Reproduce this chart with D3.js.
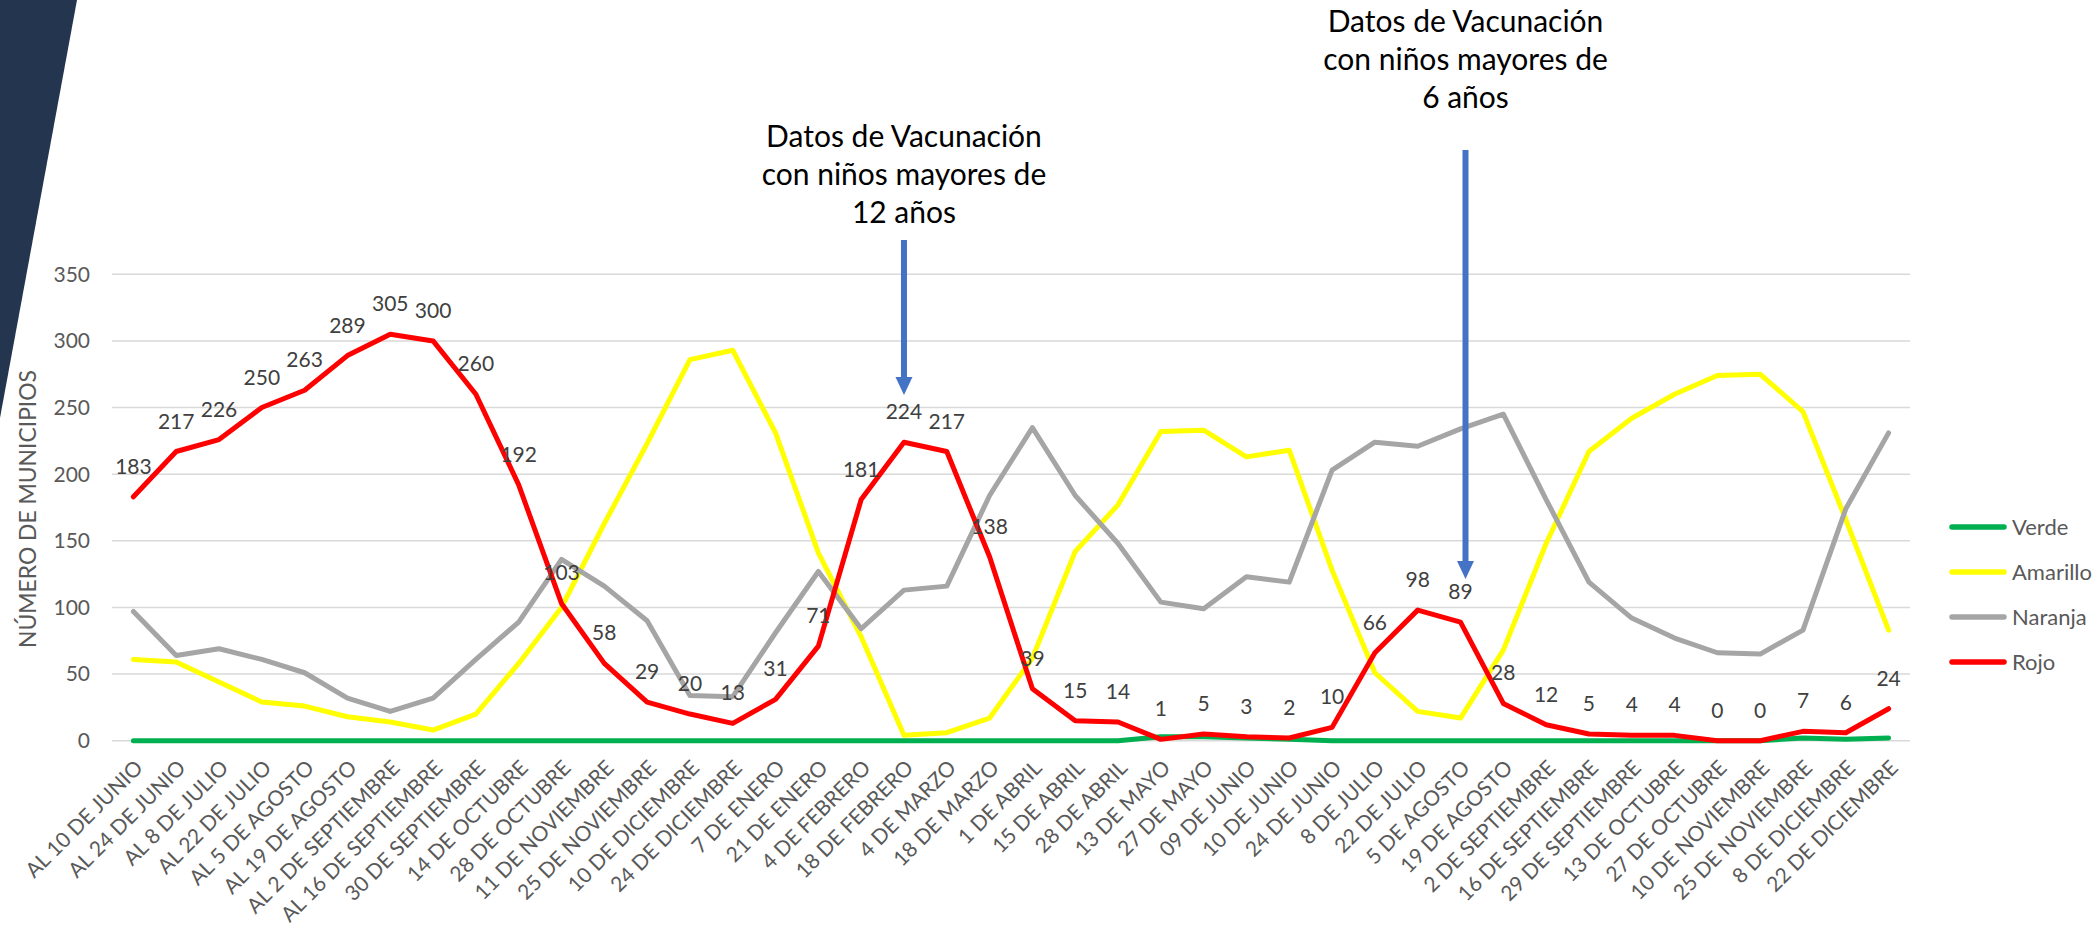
<!DOCTYPE html>
<html>
<head>
<meta charset="utf-8">
<script src="https://cdn.jsdelivr.net/npm/d3@7"></script>
<style>
  body { margin: 0; background: #fff; }
  svg text { font-family: Lato, "Open Sans", sans-serif; }
</style>
</head>
<body>
<div id="chart"></div>
<script>
// categories (fechas) and series values
var categories = ["AL 10 DE JUNIO", "AL 24 DE JUNIO", "AL 8 DE JULIO", "AL 22 DE JULIO", "AL 5 DE AGOSTO",
  "AL 19 DE AGOSTO", "AL 2 DE SEPTIEMBRE", "AL 16 DE SEPTIEMBRE", "30 DE SEPTIEMBRE", "14 DE OCTUBRE",
  "28 DE OCTUBRE", "11 DE NOVIEMBRE", "25 DE NOVIEMBRE", "10 DE DICIEMBRE", "24 DE DICIEMBRE",
  "7 DE ENERO", "21 DE ENERO", "4 DE FEBRERO", "18 DE FEBRERO", "4 DE MARZO", "18 DE MARZO",
  "1 DE ABRIL", "15 DE ABRIL", "28 DE ABRIL", "13 DE MAYO", "27 DE MAYO", "09 DE JUNIO",
  "10 DE JUNIO", "24 DE JUNIO", "8 DE JULIO", "22 DE JULIO", "5 DE AGOSTO", "19 DE AGOSTO",
  "2 DE SEPTIEMBRE", "16 DE SEPTIEMBRE", "29 DE SEPTIEMBRE", "13 DE OCTUBRE", "27 DE OCTUBRE",
  "10 DE NOVIEMBRE", "25 DE NOVIEMBRE", "8 DE DICIEMBRE", "22 DE DICIEMBRE"];

var verde = [0,0,0,0,0,0,0,0,0,0, 0,0,0,0,0,0,0,0,0,0, 0,0,0,0,3,3,2,1,0,0, 0,0,0,0,0,0,0,0,0,2, 1,2];
var amarillo = [61,59,44,29,26,18,14,8,20,58, 100,163,223,286,293,231,141,78,4,6,
  17,62,142,177,232,233,213,218,128,51, 22,17,68,148,217,242,260,274,275,247, 166,83];
var naranja = [97,64,69,61,51,32,22,32,61,89, 136,116,90,34,33,81,127,84,113,116,
  184,235,184,148,104,99,123,119,203,224, 221,234,245,181,119,92,77,66,65,83, 174,231];
var rojo = [183,217,226,250,263,289,305,300,260,192, 103,58,29,20,13,31,71,181,224,217,
  138,39,15,14,1,5,3,2,10,66, 98,89,28,12,5,4,4,0,0,7, 6,24];

var seriesNames = ["Verde", "Amarillo", "Naranja", "Rojo"];
var seriesColors = ["#00B050", "#FFFF00", "#A5A5A5", "#FF0000"];
var yTicks = [0, 50, 100, 150, 200, 250, 300, 350];
var yTitle = "NÚMERO DE MUNICIPIOS";

// arrows point at a category index (18 DE FEBRERO, 5 DE AGOSTO)
var notes = [
  {at: 18, lines: ["Datos de Vacunación", "con niños mayores de", "12 años"]},
  {at: 31, lines: ["Datos de Vacunación", "con niños mayores de", "6 años"]}
];

var width = 2100, height = 927;

var svg = d3.select("#chart").append("svg")
  .attr("width", width)
  .attr("height", height);

// dark slanted band at top-left of the slide
svg.append("polygon")
  .attr("points", "0,0 77,0 0,418")
  .attr("fill", "#243550");

// category names repeat (25 DE NOVIEMBRE), so the scale runs on indices
var x = d3.scalePoint()
  .domain(d3.range(categories.length))
  .range([112, 1910])
  .padding(0.5);

var y = d3.scaleLinear()
  .domain([0, 350])
  .range([740.7, 274.3]);

// gridlines
svg.append("g")
  .selectAll("line")
  .data(yTicks)
  .enter()
  .append("line")
  .attr("x1", 112)
  .attr("x2", 1910)
  .attr("y1", d => y(d))
  .attr("y2", d => y(d))
  .attr("stroke", "#D9D9D9")
  .attr("stroke-width", 1.5);

// y tick labels
svg.append("g")
  .selectAll("text")
  .data(yTicks)
  .enter()
  .append("text")
  .attr("x", 90)
  .attr("y", d => y(d))
  .attr("dy", "0.35em")
  .attr("text-anchor", "end")
  .attr("font-size", 21)
  .attr("fill", "#595959")
  .text(d => d);

// y title
svg.append("text")
  .attr("transform", "translate(36,509) rotate(-90)")
  .attr("text-anchor", "middle")
  .attr("font-size", 24)
  .attr("textLength", 278)
  .attr("lengthAdjust", "spacingAndGlyphs")
  .attr("fill", "#595959")
  .text(yTitle);

// category labels
svg.append("g")
  .selectAll("text")
  .data(categories)
  .enter()
  .append("text")
  .attr("transform", (d, i) => "translate(" + (x(i) + 5.5) + ",764) rotate(-45)")
  .attr("dy", "0.35em")
  .attr("text-anchor", "end")
  .attr("font-size", 21)
  .attr("fill", "#595959")
  .text(d => d);

// lines
var seriesData = [verde, amarillo, naranja, rojo];
var line = d3.line()
  .x((d, i) => x(i))
  .y(d => y(d));

svg.append("g")
  .selectAll("path")
  .data(seriesData)
  .enter()
  .append("path")
  .attr("d", d => line(d))
  .attr("fill", "none")
  .attr("stroke", (d, i) => seriesColors[i])
  .attr("stroke-width", 5)
  .attr("stroke-linejoin", "round")
  .attr("stroke-linecap", "round");

// data labels on Rojo
svg.append("g")
  .selectAll("text")
  .data(rojo)
  .enter()
  .append("text")
  .attr("x", (d, i) => x(i))
  .attr("y", d => y(d) - 23)
  .attr("text-anchor", "middle")
  .attr("font-size", 21)
  .attr("fill", "#404040")
  .text(d => d);

// legend
var legend = svg.append("g")
  .selectAll("g")
  .data(seriesNames)
  .enter()
  .append("g")
  .attr("transform", (d, i) => "translate(0," + (527 + i * 45) + ")");

legend.append("line")
  .attr("x1", 1952).attr("x2", 2004)
  .attr("stroke", (d, i) => seriesColors[i])
  .attr("stroke-width", 5.5)
  .attr("stroke-linecap", "round");

legend.append("text")
  .attr("x", 2012)
  .attr("dy", "0.35em")
  .attr("font-size", 22)
  .attr("fill", "#595959")
  .text(d => d);

// annotations with arrows
var noteLayout = [
  {dx: 0, textY: 146.7, top: 240, tip: 395},
  {dx: 5, textY: 31.7, top: 150, tip: 579}
];

notes.forEach(function(n, k) {
  var lay = noteLayout[k];
  var ax = x(n.at) + lay.dx;
  var g = svg.append("g");

  g.selectAll("text")
    .data(n.lines)
    .enter()
    .append("text")
    .attr("x", ax)
    .attr("y", (d, i) => lay.textY + i * 38)
    .attr("text-anchor", "middle")
    .attr("font-size", 30)
    .attr("fill", "#000")
    .text(d => d);

  g.append("line")
    .attr("x1", ax).attr("x2", ax)
    .attr("y1", lay.top).attr("y2", lay.tip - 17)
    .attr("stroke", "#4472C4")
    .attr("stroke-width", 6);

  g.append("polygon")
    .attr("points", [[ax - 8.5, lay.tip - 18], [ax + 8.5, lay.tip - 18], [ax, lay.tip]].join(" "))
    .attr("fill", "#4472C4");
});
</script>
</body>
</html>
